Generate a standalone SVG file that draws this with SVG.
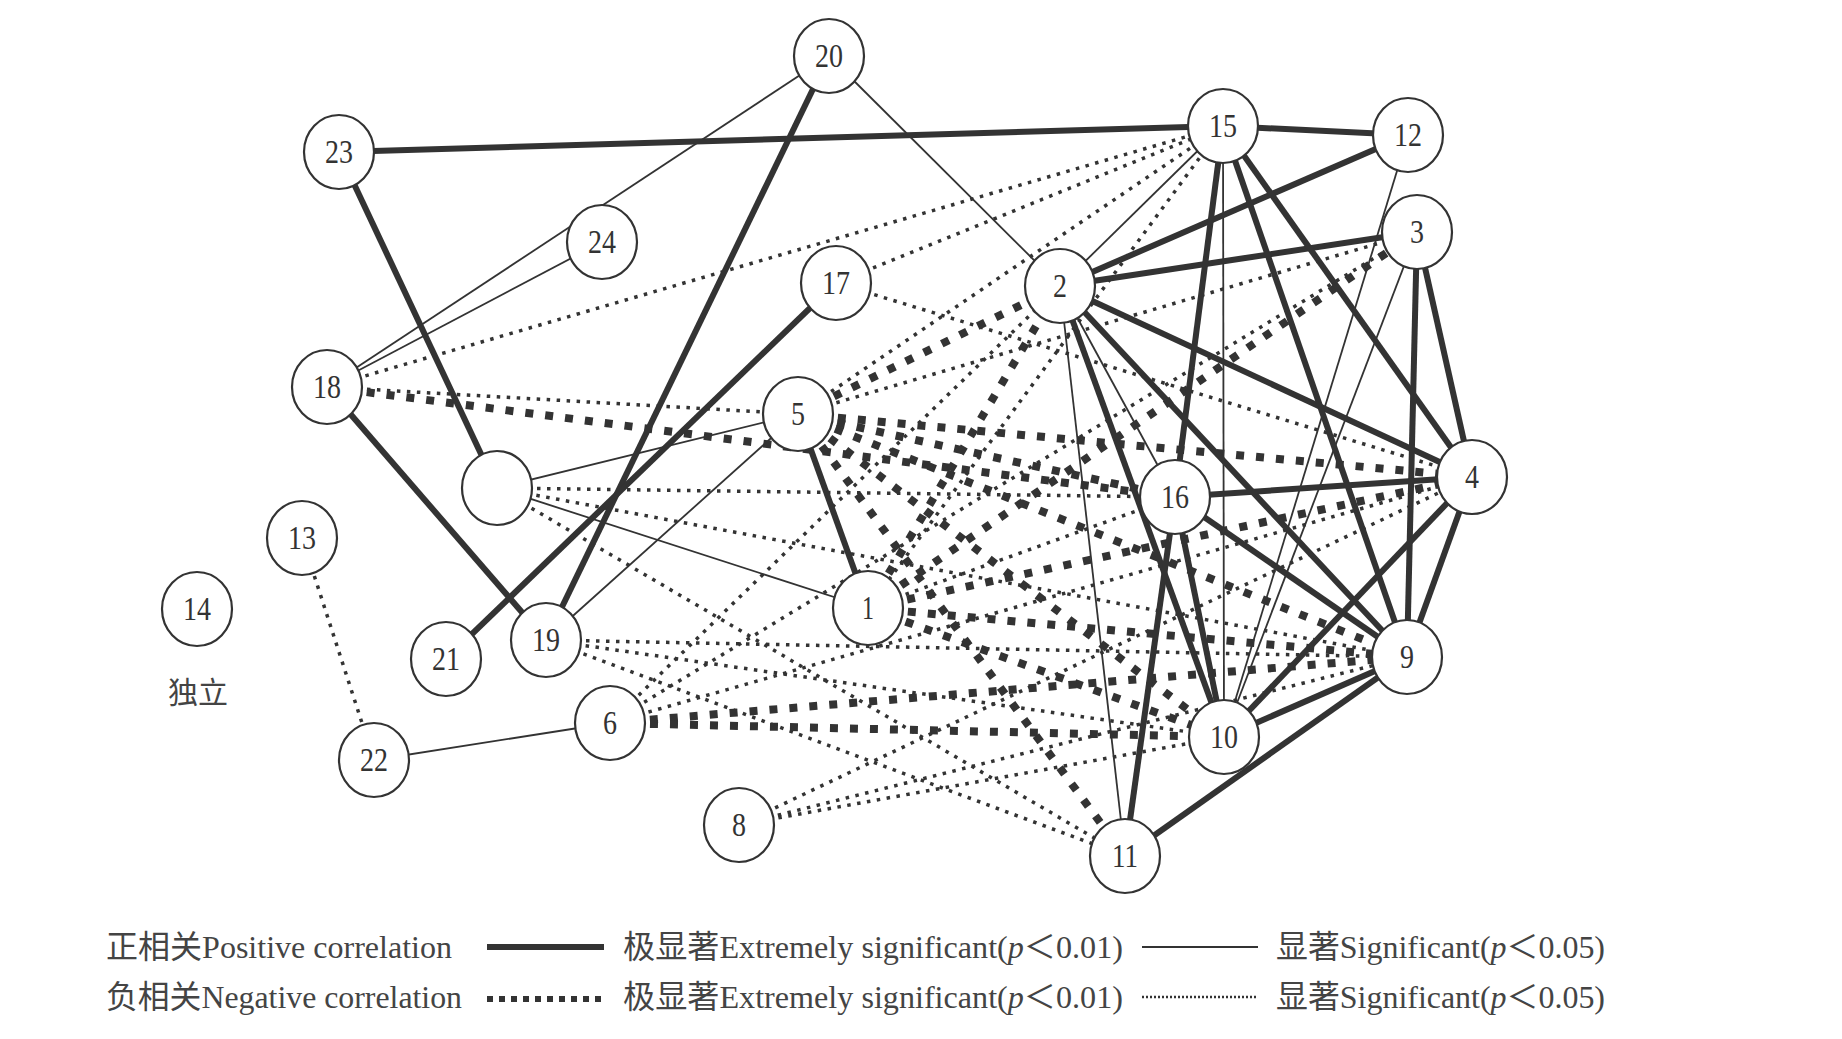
<svg xmlns="http://www.w3.org/2000/svg" width="1842" height="1039" viewBox="0 0 1842 1039">
<style>
.ps{stroke:#333;stroke-width:6;fill:none}
.pn{stroke:#333;stroke-width:1.8;fill:none}
.ns{stroke:#333;stroke-width:8;stroke-dasharray:8 12;fill:none}
.nn{stroke:#333;stroke-width:3.5;stroke-dasharray:3.5 6.5;fill:none}
.node ellipse{fill:#fff;stroke:#333;stroke-width:2.2}
.node text{font-family:"Liberation Serif","Noto Sans CJK SC",serif;font-size:34px;fill:#333;text-anchor:middle}
.lg{font-family:"Liberation Serif","Noto Sans CJK SC",serif;font-size:32px;fill:#444}
.cap{font-family:"Noto Sans CJK SC",serif;font-size:30px;fill:#444;text-anchor:middle}
</style>
<rect width="1842" height="1039" fill="#fff"/>
<g id="connectors">
<g id="neg-extreme">
<line class="ns" x1="327" y1="387" x2="1175" y2="497"/>
<line class="ns" x1="798" y1="414" x2="1060" y2="286"/>
<line class="ns" x1="798" y1="414" x2="1472" y2="477"/>
<line class="ns" x1="798" y1="414" x2="1175" y2="497"/>
<line class="ns" x1="798" y1="414" x2="1407" y2="657"/>
<line class="ns" x1="798" y1="414" x2="1224" y2="737"/>
<line class="ns" x1="798" y1="414" x2="1125" y2="856"/>
<line class="ns" x1="868" y1="608" x2="1060" y2="286"/>
<line class="ns" x1="868" y1="608" x2="1417" y2="232"/>
<line class="ns" x1="868" y1="608" x2="1472" y2="477"/>
<line class="ns" x1="868" y1="608" x2="1407" y2="657"/>
<line class="ns" x1="868" y1="608" x2="1224" y2="737"/>
<line class="ns" x1="610" y1="723" x2="1407" y2="657"/>
<line class="ns" x1="610" y1="723" x2="1224" y2="737"/>
</g>
<g id="neg-significant">
<line class="nn" x1="327" y1="387" x2="1223" y2="126"/>
<line class="nn" x1="327" y1="387" x2="798" y2="414"/>
<line class="nn" x1="836" y1="283" x2="1223" y2="126"/>
<line class="nn" x1="836" y1="283" x2="1472" y2="477"/>
<line class="nn" x1="798" y1="414" x2="1223" y2="126"/>
<line class="nn" x1="798" y1="414" x2="1417" y2="232"/>
<line class="nn" x1="302" y1="538" x2="374" y2="760"/>
<line class="nn" x1="739" y1="825" x2="1472" y2="477"/>
<line class="nn" x1="739" y1="825" x2="1407" y2="657"/>
<line class="nn" x1="739" y1="825" x2="1224" y2="737"/>
<line class="nn" x1="610" y1="723" x2="1060" y2="286"/>
<line class="nn" x1="610" y1="723" x2="1417" y2="232"/>
<line class="nn" x1="610" y1="723" x2="1472" y2="477"/>
<line class="nn" x1="546" y1="640" x2="1407" y2="657"/>
<line class="nn" x1="546" y1="640" x2="1224" y2="737"/>
<line class="nn" x1="546" y1="640" x2="1125" y2="856"/>
<line class="nn" x1="497" y1="488" x2="1175" y2="497"/>
<line class="nn" x1="497" y1="488" x2="1407" y2="657"/>
<line class="nn" x1="497" y1="488" x2="1125" y2="856"/>
<line class="nn" x1="1223" y1="126" x2="868" y2="608"/>
<line class="nn" x1="868" y1="608" x2="1175" y2="497"/>
</g>
<g id="pos-significant">
<line class="pn" x1="829" y1="56" x2="327" y2="387"/>
<line class="pn" x1="602" y1="242" x2="327" y2="387"/>
<line class="pn" x1="829" y1="56" x2="1060" y2="286"/>
<line class="pn" x1="374" y1="760" x2="610" y2="723"/>
<line class="pn" x1="798" y1="414" x2="497" y2="488"/>
<line class="pn" x1="798" y1="414" x2="546" y2="640"/>
<line class="pn" x1="497" y1="488" x2="868" y2="608"/>
<line class="pn" x1="1223" y1="126" x2="1060" y2="286"/>
<line class="pn" x1="1223" y1="126" x2="1224" y2="737"/>
<line class="pn" x1="1408" y1="135" x2="1224" y2="737"/>
<line class="pn" x1="1417" y1="232" x2="1224" y2="737"/>
<line class="pn" x1="1060" y1="286" x2="1125" y2="856"/>
<line class="pn" x1="1060" y1="286" x2="1175" y2="497"/>
</g>
<g id="pos-extreme">
<line class="ps" x1="339" y1="152" x2="1223" y2="126"/>
<line class="ps" x1="1223" y1="126" x2="1408" y2="135"/>
<line class="ps" x1="339" y1="152" x2="497" y2="488"/>
<line class="ps" x1="829" y1="56" x2="546" y2="640"/>
<line class="ps" x1="836" y1="283" x2="446" y2="659"/>
<line class="ps" x1="327" y1="387" x2="546" y2="640"/>
<line class="ps" x1="798" y1="414" x2="868" y2="608"/>
<line class="ps" x1="1060" y1="286" x2="1408" y2="135"/>
<line class="ps" x1="1060" y1="286" x2="1417" y2="232"/>
<line class="ps" x1="1060" y1="286" x2="1472" y2="477"/>
<line class="ps" x1="1060" y1="286" x2="1407" y2="657"/>
<line class="ps" x1="1060" y1="286" x2="1224" y2="737"/>
<line class="ps" x1="1223" y1="126" x2="1175" y2="497"/>
<line class="ps" x1="1223" y1="126" x2="1407" y2="657"/>
<line class="ps" x1="1223" y1="126" x2="1472" y2="477"/>
<line class="ps" x1="1417" y1="232" x2="1407" y2="657"/>
<line class="ps" x1="1417" y1="232" x2="1472" y2="477"/>
<line class="ps" x1="1175" y1="497" x2="1472" y2="477"/>
<line class="ps" x1="1175" y1="497" x2="1407" y2="657"/>
<line class="ps" x1="1175" y1="497" x2="1224" y2="737"/>
<line class="ps" x1="1125" y1="856" x2="1175" y2="497"/>
<line class="ps" x1="1125" y1="856" x2="1407" y2="657"/>
<line class="ps" x1="1224" y1="737" x2="1407" y2="657"/>
<line class="ps" x1="1224" y1="737" x2="1472" y2="477"/>
<line class="ps" x1="1407" y1="657" x2="1472" y2="477"/>
</g>
</g>
<g id="node-20" class="node"><ellipse cx="829" cy="56" rx="35" ry="37"/><text x="829" y="67" textLength="28" lengthAdjust="spacingAndGlyphs">20</text></g>
<g id="node-23" class="node"><ellipse cx="339" cy="152" rx="35" ry="37"/><text x="339" y="163" textLength="28" lengthAdjust="spacingAndGlyphs">23</text></g>
<g id="node-15" class="node"><ellipse cx="1223" cy="126" rx="35" ry="37"/><text x="1223" y="137" textLength="28" lengthAdjust="spacingAndGlyphs">15</text></g>
<g id="node-12" class="node"><ellipse cx="1408" cy="135" rx="35" ry="37"/><text x="1408" y="146" textLength="28" lengthAdjust="spacingAndGlyphs">12</text></g>
<g id="node-24" class="node"><ellipse cx="602" cy="242" rx="35" ry="37"/><text x="602" y="253" textLength="28" lengthAdjust="spacingAndGlyphs">24</text></g>
<g id="node-17" class="node"><ellipse cx="836" cy="283" rx="35" ry="37"/><text x="836" y="294" textLength="28" lengthAdjust="spacingAndGlyphs">17</text></g>
<g id="node-2" class="node"><ellipse cx="1060" cy="286" rx="35" ry="37"/><text x="1060" y="297" textLength="14" lengthAdjust="spacingAndGlyphs">2</text></g>
<g id="node-3" class="node"><ellipse cx="1417" cy="232" rx="35" ry="37"/><text x="1417" y="243" textLength="14" lengthAdjust="spacingAndGlyphs">3</text></g>
<g id="node-18" class="node"><ellipse cx="327" cy="387" rx="35" ry="37"/><text x="327" y="398" textLength="28" lengthAdjust="spacingAndGlyphs">18</text></g>
<g id="node-5" class="node"><ellipse cx="798" cy="414" rx="35" ry="37"/><text x="798" y="425" textLength="14" lengthAdjust="spacingAndGlyphs">5</text></g>
<g id="node-blank" class="node"><ellipse cx="497" cy="488" rx="35" ry="37"/></g>
<g id="node-16" class="node"><ellipse cx="1175" cy="497" rx="35" ry="37"/><text x="1175" y="508" textLength="28" lengthAdjust="spacingAndGlyphs">16</text></g>
<g id="node-4" class="node"><ellipse cx="1472" cy="477" rx="35" ry="37"/><text x="1472" y="488" textLength="14" lengthAdjust="spacingAndGlyphs">4</text></g>
<g id="node-13" class="node"><ellipse cx="302" cy="538" rx="35" ry="37"/><text x="302" y="549" textLength="28" lengthAdjust="spacingAndGlyphs">13</text></g>
<g id="node-14" class="node"><ellipse cx="197" cy="609" rx="35" ry="37"/><text x="197" y="620" textLength="28" lengthAdjust="spacingAndGlyphs">14</text></g>
<g id="node-1" class="node"><ellipse cx="868" cy="608" rx="35" ry="37"/><text x="868" y="619" textLength="12" lengthAdjust="spacingAndGlyphs">1</text></g>
<g id="node-21" class="node"><ellipse cx="446" cy="659" rx="35" ry="37"/><text x="446" y="670" textLength="28" lengthAdjust="spacingAndGlyphs">21</text></g>
<g id="node-19" class="node"><ellipse cx="546" cy="640" rx="35" ry="37"/><text x="546" y="651" textLength="28" lengthAdjust="spacingAndGlyphs">19</text></g>
<g id="node-9" class="node"><ellipse cx="1407" cy="657" rx="35" ry="37"/><text x="1407" y="668" textLength="14" lengthAdjust="spacingAndGlyphs">9</text></g>
<g id="node-6" class="node"><ellipse cx="610" cy="723" rx="35" ry="37"/><text x="610" y="734" textLength="14" lengthAdjust="spacingAndGlyphs">6</text></g>
<g id="node-22" class="node"><ellipse cx="374" cy="760" rx="35" ry="37"/><text x="374" y="771" textLength="28" lengthAdjust="spacingAndGlyphs">22</text></g>
<g id="node-10" class="node"><ellipse cx="1224" cy="737" rx="35" ry="37"/><text x="1224" y="748" textLength="28" lengthAdjust="spacingAndGlyphs">10</text></g>
<g id="node-8" class="node"><ellipse cx="739" cy="825" rx="35" ry="37"/><text x="739" y="836" textLength="14" lengthAdjust="spacingAndGlyphs">8</text></g>
<g id="node-11" class="node"><ellipse cx="1125" cy="856" rx="35" ry="37"/><text x="1125" y="867" textLength="26" lengthAdjust="spacingAndGlyphs">11</text></g>
<text id="label-independent" class="cap" x="198" y="703">独立</text>
<g id="legend">
<text class="lg" x="106" y="958" textLength="346" lengthAdjust="spacingAndGlyphs">正相关Positive correlation</text>
<line x1="487" y1="947" x2="604" y2="947" stroke="#333" stroke-width="6"/>
<text class="lg" x="623" y="958" textLength="500" lengthAdjust="spacingAndGlyphs">极显著Extremely significant(<tspan font-style="italic">p</tspan>＜0.01)</text>
<line x1="1142" y1="947" x2="1258" y2="947" stroke="#333" stroke-width="2"/>
<text class="lg" x="1276" y="958" textLength="329" lengthAdjust="spacingAndGlyphs">显著Significant(<tspan font-style="italic">p</tspan>＜0.05)</text>
<text class="lg" x="106" y="1008" textLength="356" lengthAdjust="spacingAndGlyphs">负相关Negative correlation</text>
<line x1="487" y1="999" x2="604" y2="999" stroke="#333" stroke-width="6" stroke-dasharray="6 6"/>
<text class="lg" x="623" y="1008" textLength="500" lengthAdjust="spacingAndGlyphs">极显著Extremely significant(<tspan font-style="italic">p</tspan>＜0.01)</text>
<line x1="1142" y1="997" x2="1258" y2="997" stroke="#333" stroke-width="2.5" stroke-dasharray="2 2"/>
<text class="lg" x="1276" y="1008" textLength="329" lengthAdjust="spacingAndGlyphs">显著Significant(<tspan font-style="italic">p</tspan>＜0.05)</text>
</g>
</svg>
